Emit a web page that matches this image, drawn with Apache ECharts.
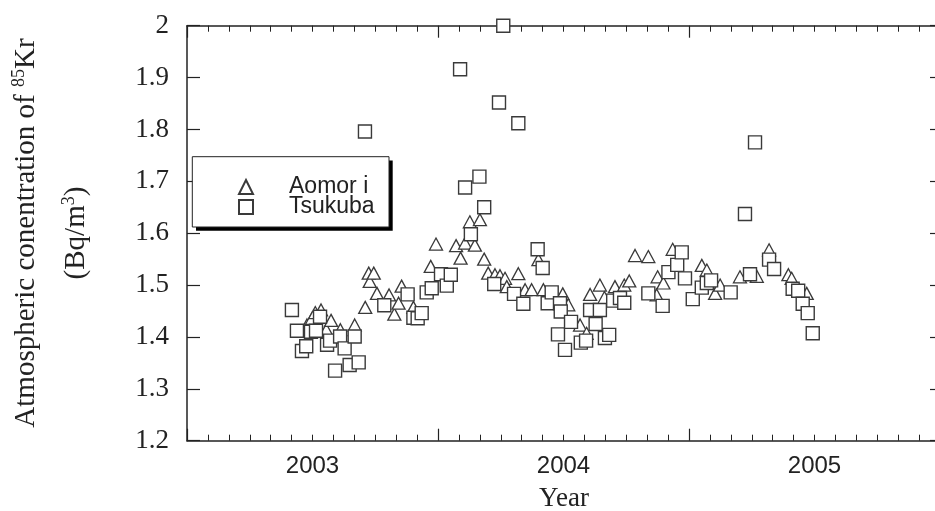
<!DOCTYPE html>
<html>
<head>
<meta charset="utf-8">
<script src="https://cdn.jsdelivr.net/npm/echarts@6/dist/echarts.min.js"></script>
<style>html,body{margin:0;padding:0;background:#fff;}#c{width:935px;height:511px;}</style>
</head>
<body>
<div id="c"></div>
<script>
// Aomori (triangles): decimal year and concentration (Bq/m3)
const aomoriYear = [2002.978,2002.998,2003.011,2003.034,2003.055,2003.074,2003.111,2003.168,2003.210,2003.224,2003.228,2003.244,2003.257,2003.305,2003.326,2003.343,2003.355,2003.402,2003.471,2003.492,2003.572,2003.590,2003.608,2003.627,2003.647,2003.667,2003.684,2003.700,2003.727,2003.747,2003.767,2003.774,2003.820,2003.847,2003.873,2003.900,2003.920,2003.997,2004.019,2004.066,2004.092,2004.106,2004.145,2004.163,2004.205,2004.242,2004.262,2004.285,2004.338,2004.371,2004.375,2004.398,2004.435,2004.551,2004.571,2004.604,2004.624,2004.703,2004.770,2004.819,2004.896,2004.909,2004.969];
const aomoriValue = [1.423,1.436,1.447,1.452,1.414,1.432,1.414,1.423,1.457,1.523,1.507,1.523,1.484,1.481,1.444,1.465,1.498,1.457,1.536,1.579,1.576,1.552,1.581,1.622,1.577,1.626,1.550,1.523,1.520,1.518,1.513,1.497,1.522,1.491,1.491,1.549,1.491,1.483,1.462,1.423,1.407,1.482,1.500,1.476,1.497,1.500,1.508,1.557,1.555,1.481,1.516,1.504,1.569,1.538,1.529,1.484,1.500,1.516,1.517,1.568,1.520,1.513,1.484];
// Tsukuba (squares)
const tsukubaYear = [2002.918,2002.938,2002.958,2002.975,2002.994,2003.014,2003.030,2003.058,2003.070,2003.090,2003.110,2003.128,2003.148,2003.168,2003.184,2003.209,2003.286,2003.379,2003.402,2003.419,2003.435,2003.455,2003.475,2003.512,2003.535,2003.551,2003.588,2003.608,2003.631,2003.665,2003.684,2003.724,2003.743,2003.760,2003.803,2003.820,2003.840,2003.897,2003.917,2003.937,2003.953,2003.978,2003.986,2003.989,2004.006,2004.030,2004.069,2004.090,2004.106,2004.128,2004.145,2004.165,2004.182,2004.198,2004.225,2004.242,2004.338,2004.395,2004.418,2004.453,2004.471,2004.484,2004.515,2004.551,2004.571,2004.588,2004.666,2004.723,2004.743,2004.763,2004.819,2004.839,2004.913,2004.935,2004.953,2004.973,2004.993];
const tsukubaValue = [1.452,1.412,1.373,1.382,1.410,1.412,1.439,1.385,1.393,1.335,1.401,1.378,1.346,1.401,1.351,1.796,1.461,1.482,1.437,1.436,1.446,1.486,1.494,1.521,1.499,1.520,1.916,1.688,1.598,1.709,1.650,1.502,1.852,2.000,1.483,1.812,1.464,1.569,1.533,1.465,1.486,1.405,1.465,1.449,1.375,1.429,1.389,1.393,1.452,1.425,1.452,1.398,1.404,1.470,1.475,1.466,1.484,1.460,1.525,1.539,1.563,1.513,1.473,1.495,1.504,1.509,1.486,1.637,1.521,1.775,1.549,1.531,1.493,1.489,1.464,1.446,1.407];
// axis labels
const yearLabels = [2003, 2004, 2005];
const seriesNames = ['Aomor i', 'Tsukuba'];
const yTitle1 = ['Atmospheric conentration of ', '85', 'Kr'];
const yTitle2 = ['(Bq/m', '3', ')'];
const xTitle = 'Year';

const pairs = (xs, ys) => xs.map((x, i) => [x, ys[i]]);
const chart = echarts.init(document.getElementById('c'), null, {renderer: 'canvas'});
const ink = '#222';
const axisLine = {show: true, lineStyle: {color: ink, width: 1.5}};
const serif = 'Liberation Serif';
const sans = 'Liberation Sans';
const supRich = {
  a: {fontFamily: serif, fontSize: 29, lineHeight: 32, fill: ink},
  s: {fontFamily: serif, fontSize: 18, lineHeight: 32, verticalAlign: 'top', padding: [0, 0, 14, 0], fill: ink}
};

chart.setOption({
  animation: false,
  backgroundColor: '#fff',
  grid: {left: 187, right: -5, top: 25.7, bottom: 70.3, containLabel: false, outerBoundsMode: 'none'},
  xAxis: [
    {type: 'value', position: 'bottom', min: 2002.5, max: 2005.5, interval: 1,
     axisLine: axisLine, splitLine: {show: false},
     axisTick: {show: true, inside: true, length: 12, lineStyle: {color: ink, width: 1.2}},
     minorTick: {show: true, splitNumber: 12, length: 6, lineStyle: {color: ink, width: 1}},
     axisLabel: {show: false}},
    {type: 'value', position: 'bottom', min: 2002.5, max: 2005.5, interval: 0.5,
     axisLine: {show: false}, axisTick: {show: false}, splitLine: {show: false},
     axisLabel: {show: true, margin: 14, color: ink, fontFamily: sans, fontSize: 24,
       formatter: v => { const r = Math.round(v); return (Math.abs(v - r) < 1e-6 && yearLabels.includes(r)) ? String(r) : ''; }}},
    {type: 'value', position: 'top', min: 2002.5, max: 2005.5, interval: 1,
     axisLine: axisLine, splitLine: {show: false},
     axisTick: {show: true, inside: true, length: 12, lineStyle: {color: ink, width: 1.2}},
     minorTick: {show: true, splitNumber: 12, length: 6, lineStyle: {color: ink, width: 1}},
     axisLabel: {show: false}}
  ],
  yAxis: [
    {type: 'value', position: 'left', min: 1.2, max: 2, interval: 0.1,
     axisLine: axisLine, splitLine: {show: false},
     axisTick: {show: true, inside: true, length: 13, lineStyle: {color: ink, width: 1.2}},
     axisLabel: {show: true, margin: 18, color: ink, fontFamily: serif, fontSize: 27,
       formatter: v => (Math.abs(v - 2) < 1e-9 ? '2' : v.toFixed(1))}},
    {type: 'value', position: 'right', min: 1.2, max: 2, interval: 0.1,
     axisLine: axisLine, splitLine: {show: false},
     axisTick: {show: true, inside: true, length: 10, lineStyle: {color: ink, width: 1.2}},
     axisLabel: {show: false}}
  ],
  legend: {
    show: true, orient: 'vertical', left: 238, top: 175.5, z: 6,
    data: seriesNames,
    itemWidth: 14, itemHeight: 14, itemGap: -3,
    padding: 0,
    formatter: n => '{t|' + n + '}',
    textStyle: {color: ink, fontFamily: sans, fontSize: 23, lineHeight: 20,
      rich: {t: {fontFamily: sans, fontSize: 23, color: ink, lineHeight: 20, padding: [0, 0, 0, 31]}}}
  },
  graphic: [
    {type: 'rect', z: 5, silent: true, shape: {x: 196, y: 160.5, width: 196.7, height: 70.3},
     style: {fill: '#000'}},
    {type: 'rect', z: 5, silent: true, shape: {x: 192.3, y: 156.7, width: 196.7, height: 70.3},
     style: {fill: '#fff', stroke: ink, lineWidth: 1}},
    {type: 'text', x: 26, y: 233, rotation: Math.PI / 2, silent: true,
     style: {text: '{a|' + yTitle1[0] + '}{s|' + yTitle1[1] + '}{a|' + yTitle1[2] + '}',
       align: 'center', verticalAlign: 'middle', fill: ink, rich: supRich}},
    {type: 'text', x: 76, y: 233, rotation: Math.PI / 2, silent: true,
     style: {text: '{a|' + yTitle2[0] + '}{s|' + yTitle2[1] + '}{a|' + yTitle2[2] + '}',
       align: 'center', verticalAlign: 'middle', fill: ink, rich: supRich}},
    {type: 'text', x: 564, y: 499, silent: true,
     style: {text: xTitle, align: 'center', verticalAlign: 'middle', fill: ink,
       fontFamily: serif, fontSize: 27}}
  ],
  series: [
    {name: seriesNames[0], type: 'scatter', xAxisIndex: 0, yAxisIndex: 0,
     symbol: 'triangle', symbolSize: [13, 12],
     itemStyle: {color: '#fff', borderColor: '#3a3a3a', borderWidth: 1.3, opacity: 1},
     data: pairs(aomoriYear, aomoriValue)},
    {name: seriesNames[1], type: 'scatter', xAxisIndex: 0, yAxisIndex: 0,
     symbol: 'rect', symbolSize: 13,
     itemStyle: {color: '#fff', borderColor: '#3a3a3a', borderWidth: 1.4, opacity: 1},
     data: pairs(tsukubaYear, tsukubaValue)}
  ]
});
</script>
</body>
</html>
